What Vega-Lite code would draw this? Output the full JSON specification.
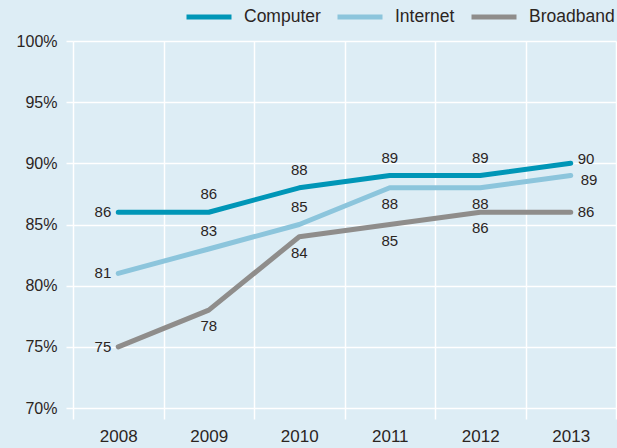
{
  "$schema": "https://vega.github.io/schema/vega-lite/v6.json",
  "width": 543,
  "height": 367,
  "autosize": {"type": "none"},
  "padding": {"left": 73, "top": 41, "right": 1, "bottom": 40},
  "background": "#ddedf5",
  "config": {"view": {"stroke": null}, "font": "Liberation Sans"},
  "data": {"values": [
    {"year": 2008, "series": "Computer", "value": 86},
    {"year": 2009, "series": "Computer", "value": 86},
    {"year": 2010, "series": "Computer", "value": 88},
    {"year": 2011, "series": "Computer", "value": 89},
    {"year": 2012, "series": "Computer", "value": 89},
    {"year": 2013, "series": "Computer", "value": 90},
    {"year": 2008, "series": "Internet", "value": 81},
    {"year": 2009, "series": "Internet", "value": 83},
    {"year": 2010, "series": "Internet", "value": 85},
    {"year": 2011, "series": "Internet", "value": 88},
    {"year": 2012, "series": "Internet", "value": 88},
    {"year": 2013, "series": "Internet", "value": 89},
    {"year": 2008, "series": "Broadband", "value": 75},
    {"year": 2009, "series": "Broadband", "value": 78},
    {"year": 2010, "series": "Broadband", "value": 84},
    {"year": 2011, "series": "Broadband", "value": 85},
    {"year": 2012, "series": "Broadband", "value": 86},
    {"year": 2013, "series": "Broadband", "value": 86}
  ]},
  "encoding": {
    "x": {
      "field": "year", "type": "ordinal",
      "scale": {"type": "band", "paddingInner": 0, "paddingOuter": 0},
      "axis": {
        "title": null, "domain": false, "grid": true, "gridColor": "#ffffff", "gridWidth": 1.5,
        "tickBand": "extent", "tickColor": "#ffffff", "tickWidth": 1.5, "tickSize": 11,
        "labelFontSize": 17, "labelColor": "#2b251f", "labelPadding": 9, "labelAngle": 0
      }
    },
    "y": {
      "field": "value", "type": "quantitative",
      "scale": {"domain": [70, 100], "nice": false, "zero": false},
      "axis": {
        "title": null, "domain": false, "values": [70, 75, 80, 85, 90, 95, 100],
        "grid": true, "gridColor": "#ffffff", "gridWidth": 1.5,
        "tickColor": "#ffffff", "tickSize": 7, "tickWidth": 1.5,
        "labelFontSize": 16, "labelColor": "#2b251f", "labelPadding": 9,
        "labelExpr": "datum.value + '%'"
      }
    }
  },
  "layer": [
    {
      "mark": {"type": "line", "strokeWidth": 5, "strokeCap": "round", "strokeJoin": "round"},
      "encoding": {
        "color": {
          "field": "series", "type": "nominal",
          "scale": {"domain": ["Computer", "Internet", "Broadband"], "range": ["#0096b7", "#8cc5dc", "#8f8d8b"]},
          "legend": {
            "orient": "none", "legendX": 111, "legendY": -49, "direction": "horizontal",
            "title": null, "symbolType": "stroke", "symbolSize": 2025, "symbolStrokeWidth": 5,
            "labelFontSize": 17.5, "labelColor": "#2b251f", "columnPadding": 6, "labelOffset": 10
          }
        }
      }
    },
    {
      "transform": [{"filter": "datum.year == 2008"}],
      "mark": {"type": "text", "align": "right", "baseline": "middle", "dx": -7, "fontSize": 15, "color": "#2b251f"},
      "encoding": {"text": {"field": "value"}}
    },
    {
      "transform": [{"filter": "datum.year == 2013 && datum.series == 'Computer'"}],
      "mark": {"type": "text", "align": "left", "baseline": "middle", "dx": 7, "dy": -4, "fontSize": 15, "color": "#2b251f"},
      "encoding": {"text": {"field": "value"}}
    },
    {
      "transform": [{"filter": "datum.year == 2013 && datum.series == 'Internet'"}],
      "mark": {"type": "text", "align": "left", "baseline": "middle", "dx": 10, "dy": 4, "fontSize": 15, "color": "#2b251f"},
      "encoding": {"text": {"field": "value"}}
    },
    {
      "transform": [{"filter": "datum.year == 2013 && datum.series == 'Broadband'"}],
      "mark": {"type": "text", "align": "left", "baseline": "middle", "dx": 7, "fontSize": 15, "color": "#2b251f"},
      "encoding": {"text": {"field": "value"}}
    },
    {
      "transform": [{"filter": "(datum.series == 'Computer' && datum.year > 2008 && datum.year < 2013) || (datum.series == 'Internet' && (datum.year == 2009 || datum.year == 2010))"}],
      "mark": {"type": "text", "align": "center", "baseline": "middle", "dy": -18, "fontSize": 15, "color": "#2b251f"},
      "encoding": {"text": {"field": "value"}}
    },
    {
      "transform": [{"filter": "(datum.series == 'Broadband' && datum.year > 2008 && datum.year < 2013) || (datum.series == 'Internet' && (datum.year == 2011 || datum.year == 2012))"}],
      "mark": {"type": "text", "align": "center", "baseline": "middle", "dy": 16, "fontSize": 15, "color": "#2b251f"},
      "encoding": {"text": {"field": "value"}}
    }
  ]
}
